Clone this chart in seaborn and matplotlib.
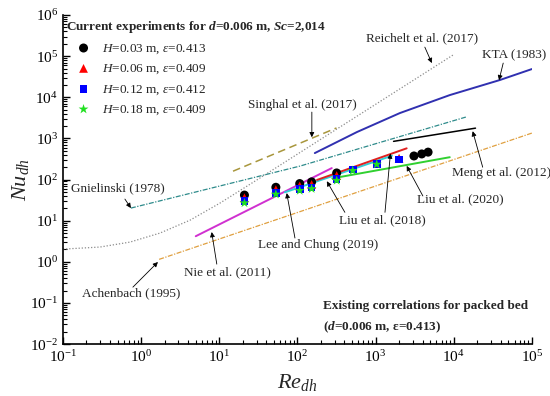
import numpy as np
import pandas as pd
import matplotlib
matplotlib.use("Agg")
import matplotlib.pyplot as plt
import seaborn as sns

# Current experiments
re_h003 = [21, 53, 107, 152, 318, 3100, 3900, 4700]
nu_h003 = [42, 65, 80, 88, 145, 375, 420, 465]
re_h006 = [21, 53, 107, 152, 318, 2000]
nu_h006 = [36, 57, 70, 76, 125, 330]
re_h012 = [21, 53, 107, 152, 318, 510, 1035, 2000]
nu_h012 = [30, 48, 60, 64, 105, 175, 240, 310]
re_h018 = [21, 53, 107, 152, 318, 510, 1035]
nu_h018 = [27, 44, 54, 60, 95, 165, 235]

# Existing correlations
re_reichelt = [0.1, 0.297, 0.719, 1.74, 4.22, 10.2, 33.1, 9750]
nu_reichelt = [2.04, 2.29, 3.02, 5.0, 10.3, 26.8, 109, 106000]
re_kta = [167, 577, 2046, 8930, 38900, 100000]
nu_kta = [441, 1430, 4140, 11350, 26300, 48600]
re_singhal = [15, 316]
nu_singhal = [160, 1800]
re_gnielinski = [0.74, 108, 14300]
nu_gnielinski = [20.3, 213, 3310]
re_meng = [1700, 19000]
nu_meng = [850, 1780]
re_liu2020 = [280, 8900]
nu_liu2020 = [107, 350]
re_liu2018 = [178, 2500]
nu_liu2018 = [98, 575]
re_lee = [69, 1620]
nu_lee = [49, 380]
re_nie = [5.0, 275]
nu_nie = [4.2, 190]
re_achenbach = [1.7, 100000]
nu_achenbach = [1.15, 1350]

sns.set_theme(style="ticks")
plt.rcParams["font.family"] = ["Liberation Serif", "DejaVu Serif"]
plt.rcParams["mathtext.fontset"] = "custom"
plt.rcParams["mathtext.rm"] = "Liberation Serif"
plt.rcParams["mathtext.it"] = "Liberation Serif:italic"
plt.rcParams["mathtext.bf"] = "Liberation Serif:bold"
plt.rcParams["mathtext.bfit"] = "Liberation Serif:italic:bold"

fig = plt.figure(figsize=(5.5, 3.96), dpi=100)
ax = fig.add_axes([0.1145, 0.131, 0.8525, 0.831])
ax.set_xscale("log")
ax.set_yscale("log")

lines = [
    (re_reichelt, nu_reichelt, "#8c8c8c", (0, (1, 1.5)), 0.9),
    (re_gnielinski, nu_gnielinski, "#2e8b8b", (0, (4, 1.2, 1, 1.2)), 0.9),
    (re_singhal, nu_singhal, "#a8963c", (0, (5, 3)), 1.1),
    (re_kta, nu_kta, "#3030b0", "-", 1.4),
    (re_meng, nu_meng, "black", "-", 1.1),
    (re_achenbach, nu_achenbach, "#e0a040", (0, (4, 1.2, 1, 1.2)), 0.9),
    (re_nie, nu_nie, "#d030d0", "-", 1.4),
    (re_lee, nu_lee, "#30d0d8", "-", 1.4),
    (re_liu2018, nu_liu2018, "#e02020", "-", 1.4),
    (re_liu2020, nu_liu2020, "#30d030", "-", 1.4),
]
for xs, ys, c, ls, lw in lines:
    sns.lineplot(x=xs, y=ys, ax=ax, color=c, linestyle=ls, linewidth=lw,
                 sort=False, estimator=None)

series = [
    (re_h003, nu_h003, "black", "o", r"$H$=0.03 m, $\varepsilon$=0.413", 42),
    (re_h006, nu_h006, "#ff0000", "^", r"$H$=0.06 m, $\varepsilon$=0.409", 40),
    (re_h012, nu_h012, "#0000ff", "s", r"$H$=0.12 m, $\varepsilon$=0.412", 30),
    (re_h018, nu_h018, "#20e020", "*", r"$H$=0.18 m, $\varepsilon$=0.409", 55),
]
for xs, ys, c, m, lab, s in series:
    sns.scatterplot(x=xs, y=ys, ax=ax, color=c, marker=m, s=s, label=lab,
                    edgecolor="none", zorder=5)

ax.set_xlim(0.1, 1e5)
ax.set_ylim(0.01, 1e6)
sns.despine(ax=ax)
ax.xaxis.set_major_locator(matplotlib.ticker.LogLocator(base=10, numticks=10))
ax.yaxis.set_major_locator(matplotlib.ticker.LogLocator(base=10, numticks=10))
ax.xaxis.set_minor_locator(matplotlib.ticker.LogLocator(base=10, subs=np.arange(2, 10), numticks=20))
ax.yaxis.set_minor_locator(matplotlib.ticker.LogLocator(base=10, subs=np.arange(2, 10), numticks=20))
ax.tick_params(which="both", direction="in", colors="black", labelsize=11)
ax.tick_params(which="major", length=5, width=1)
ax.tick_params(which="minor", length=3, width=0.8)
for sp in ax.spines.values():
    sp.set_color("black")
    sp.set_linewidth(1.2)

ax.set_xlabel(r"$Re_{dh}$", fontsize=16, labelpad=5)
ax.set_ylabel(r"$Nu_{dh}$", fontsize=16, labelpad=-1)

leg = ax.legend(loc="upper left", bbox_to_anchor=(-0.004, 1.003), frameon=False,
                fontsize=9.5,
                title=r"Current experiments for $\mathbfit{d}$=0.006 m, $\mathbfit{Sc}$=2,014",
                title_fontproperties={"weight": "bold", "size": 9.5},
                alignment="left", borderaxespad=0, handlelength=2.6,
                handletextpad=0.08, labelspacing=0.52, markerscale=1.0)

arrow = dict(arrowstyle="-|>", color="black", lw=0.6, mutation_scale=7,
             shrinkA=0, shrinkB=0)
fs = 9.5
notes = [
    ("Reichelt et al. (2017)", (3920, 2.76e5), (4270, 1.66e5), (5250, 6.8e4)),
    ("KTA (1983)", (6.0e4, 1.08e5), (4.3e4, 6.8e4), (3.8e4, 2.6e4)),
    ("Singhal et al. (2017)", (117, 6500), (153, 4370), (153, 1070)),
    ("Meng et al. (2012)", (4.1e4, 145), (2.35e4, 200), (1.75e4, 1500)),
    ("Liu et al. (2020)", (1.23e4, 34), (4030, 40), (2500, 215)),
    ("Liu et al. (2018)", (1230, 10.4), (1320, 16), (1550, 430)),
    ("Lee and Chung (2019)", (183, 2.55), (93, 3.8), (73, 47)),
    ("Nie et al. (2011)", (12.9, 0.56), (9.3, 0.88), (8.0, 5.3)),
    ("Gnielinski (1978)", (0.506, 62), (0.62, 33.6), (0.74, 20.3)),
    ("Achenbach (1995)", (0.74, 0.174), (0.785, 0.243), (1.64, 0.99)),
]
for txt, pos, tail, tip in notes:
    ax.text(pos[0], pos[1], txt, fontsize=fs, ha="center", va="center")
    ax.annotate("", xy=tip, xytext=tail, arrowprops=arrow)
# second arrow of Liu et al. (2018)
ax.annotate("", xy=(238, 91), xytext=(405, 16), arrowprops=arrow)

ax.text(212, 0.084, "Existing correlations for packed bed", fontsize=fs,
        fontweight="bold", ha="left", va="center")
ax.text(212, 0.0259, r"($\mathbfit{d}$=0.006 m, $\mathbf{\varepsilon}$=0.413)",
        fontsize=fs, fontweight="bold", ha="left", va="center")

fig.savefig("out.png", dpi=100)
